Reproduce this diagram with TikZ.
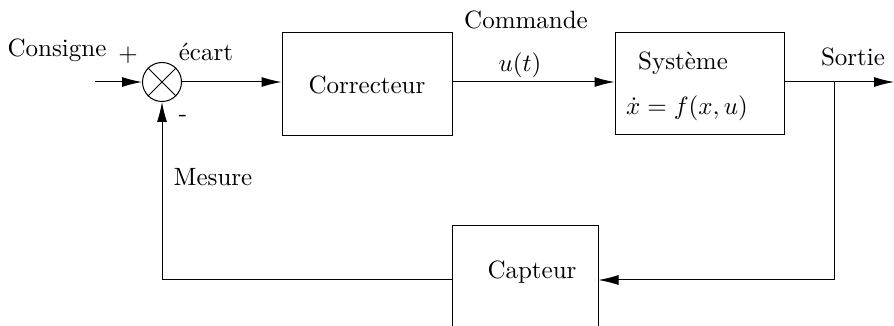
\documentclass[tikz,border=0pt]{standalone}
\usepackage{fontspec}
\usetikzlibrary{arrows.meta}
\begin{document}
\begin{tikzpicture}[x=0.4pt,y=-0.4pt,
  blk/.style={draw,rectangle,inner sep=0pt},
  lbl/.style={inner sep=0pt},
  arr/.style={-{Latex[length=8pt,width=4pt]}},
  sumc/.style={draw,circle,minimum size=15.6pt,inner sep=0pt}]
\path[use as bounding box] (0,0) rectangle (894,326);
\clip (0,0) rectangle (894,326);
% nodes
\node[sumc] (s) at (162,82) {};
\draw (s.north west) -- (s.south east) (s.south west) -- (s.north east);
\node[blk,minimum width=68pt,minimum height=41.2pt] (cor) at (367,84.5) {Correcteur};
\node[blk,minimum width=67.6pt,minimum height=40.8pt] (sys) at (699.5,84) {};
\node[lbl] (systxt) at (683,63) {Système};
\node[lbl] (syseq) at (687,108) {$\dot{x}=f(x,u)$};
\node[blk,minimum width=58.4pt,minimum height=48pt] (cap) at (525,286) {};
\node[lbl] (captxt) at (532,272) {Capteur};
% labels
\node[lbl] (cons) at (57,50) {Consigne};
\node[lbl] (plus) at (128,55) {$+$};
\node[lbl] (ecart) at (206,52) {écart};
\node[lbl] (minus) at (183,118) {-};
\node[lbl] (cmd) at (526,20) {Commande};
\node[lbl] (ut) at (520,65) {$u(t)$};
\node[lbl] (sortie) at (853,57) {Sortie};
\node[lbl] (mes) at (213,177) {Mesure};
% coordinates
\coordinate (in) at (95,82);
\coordinate (out) at (894,82);
\coordinate (br) at (834,82);
\coordinate (fbr) at (834,280);
% connectors
\draw[arr] (in) -- (s.west);
\draw[arr] (s.east) -- (s.east -| cor.west);
\draw[arr] (cor.east |- s.east) -- (sys.west |- s.east);
\draw[arr] (sys.east |- s.east) -- (out);
\draw[arr] (br) -- (fbr) -- (fbr -| cap.east);
\draw[arr] (fbr -| cap.west) -| (s.south);
\end{tikzpicture}
\end{document}
